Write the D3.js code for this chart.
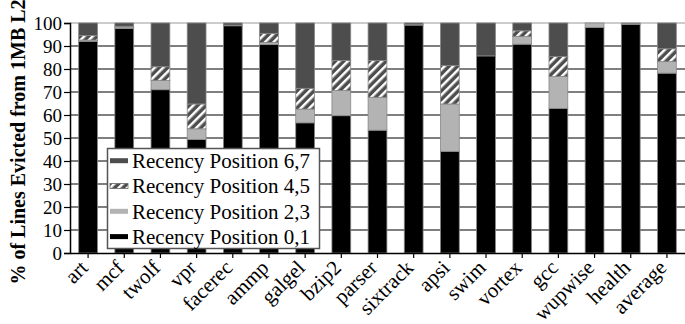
<!DOCTYPE html>
<html>
<head>
<meta charset="utf-8">
<script src="https://cdn.jsdelivr.net/npm/d3@7"></script>
<style>
  html, body { margin: 0; padding: 0; background: #fff; }
  svg { display: block; font-family: "Liberation Serif", "DejaVu Serif", serif; }
</style>
</head>
<body>
<svg id="chart" width="685" height="324"></svg>
<script>
const categories = ["art", "mcf", "twolf", "vpr", "facerec", "ammp", "galgel", "bzip2", "parser",
  "sixtrack", "apsi", "swim", "vortex", "gcc", "wupwise", "health", "average"];
const pos01 = [92, 97.6, 71, 49.3, 98.8, 90.6, 56.6, 59.7, 53.4, 99.1, 44.2, 85.7, 90.8, 62.9, 98.1, 99.3, 78.2];
const pos23 = [0.6, 0.7, 4, 4.7, 0.3, 0.9, 6, 10.9, 14.3, 0.3, 20.6, 0, 3.3, 13.8, 1.9, 0.3, 5];
const pos45 = [2, 0.3, 6, 10.8, 0, 4, 9, 13.1, 16, 0, 16.7, 0, 2.5, 8.7, 0, 0, 5.6];
const pos67 = categories.map((c, i) => Math.max(0, 100 - pos01[i] - pos23[i] - pos45[i]));
const yTicks = [0, 10, 20, 30, 40, 50, 60, 70, 80, 90, 100];
const seriesNames = ["Recency Position 6,7", "Recency Position 4,5", "Recency Position 2,3", "Recency Position 0,1"];

const svg = d3.select("#chart");
const plotLeft = 70, plotRight = 685, plotTop = 23, plotBottom = 253;

const x = d3.scaleBand().domain(categories).range([plotLeft, plotRight]).paddingInner(0.48).paddingOuter(0.24);
const y = d3.scaleLinear().domain([0, 100]).range([plotBottom, plotTop]);

const defs = svg.append("defs");
const pattern = defs.append("pattern")
  .attr("id", "hatch")
  .attr("patternUnits", "userSpaceOnUse")
  .attr("width", 6)
  .attr("height", 6)
  .attr("patternTransform", "rotate(45)");
pattern.append("rect").attr("width", 6).attr("height", 6).attr("fill", "#4d4d4d");
pattern.append("rect").attr("x", 0).attr("width", 2.5).attr("height", 6).attr("fill", "#fff");

const fills = { pos01: "#000", pos23: "#b3b3b3", pos45: "url(#hatch)", pos67: "#4d4d4d" };

// gridlines
svg.append("g")
  .selectAll("line")
  .data(yTicks.filter((t) => t > 0))
  .join("line")
  .attr("x1", plotLeft)
  .attr("x2", plotRight)
  .attr("y1", (d) => y(d))
  .attr("y2", (d) => y(d))
  .attr("stroke", (d) => (d === 100 ? "#999" : "#000"))
  .attr("stroke-width", 1.2);

// stacked bars
const rows = categories.map((c, i) => ({ cat: c, pos01: pos01[i], pos23: pos23[i], pos45: pos45[i], pos67: pos67[i] }));
const stack = d3.stack().keys(["pos01", "pos23", "pos45", "pos67"])(rows);

svg.append("g")
  .selectAll("g")
  .data(stack)
  .join("g")
  .attr("fill", (s) => fills[s.key])
  .selectAll("rect")
  .data((s) => s)
  .join("rect")
  .attr("x", (d) => x(d.data.cat))
  .attr("width", x.bandwidth())
  .attr("y", (d) => y(d[1]))
  .attr("height", (d) => Math.max(0, y(d[0]) - y(d[1])))
  .attr("stroke", "#888")
  .attr("stroke-width", 0.8);

// y axis
const yAxis = svg.append("g")
  .attr("transform", `translate(${plotLeft},0)`)
  .call(d3.axisLeft(y).tickValues(yTicks).tickSize(6).tickPadding(2));
yAxis.attr("font-family", null).attr("font-size", null);
yAxis.select(".domain").attr("stroke", "#000").attr("stroke-width", 1.5);
yAxis.selectAll(".tick line").attr("stroke", "#000").attr("stroke-width", 1.2);
yAxis.selectAll("text").attr("font-size", 19).attr("fill", "#000");

// x axis (labels drawn separately, rotated)
const xAxis = svg.append("g")
  .attr("transform", `translate(0,${plotBottom})`)
  .call(d3.axisBottom(x).tickSize(5).tickSizeOuter(0).tickFormat(""));
xAxis.select(".domain").attr("stroke", "#000").attr("stroke-width", 1.5);
xAxis.selectAll(".tick line").attr("stroke", "#000").attr("stroke-width", 1.2);

svg.append("g")
  .selectAll("g")
  .data(categories)
  .join("g")
  .attr("transform", (d) => `translate(${x(d) + x.bandwidth() / 2 + 1},${plotBottom + 16})`)
  .append("g")
  .attr("transform", "rotate(-45)")
  .append("text")
  .attr("text-anchor", "end")
  .attr("font-size", 21)
  .attr("fill", "#000")
  .text((d) => d);

// y title
svg.append("text")
  .attr("transform", `translate(25,${142}) rotate(-90)`)
  .attr("text-anchor", "middle")
  .attr("font-size", 20)
  .attr("font-weight", "bold")
  .text("% of Lines Evicted from 1MB L2");

// legend
const legend = svg.append("g");
legend.append("rect")
  .attr("x", 107.5)
  .attr("y", 148.5)
  .attr("width", 212)
  .attr("height", 100)
  .attr("fill", "#fff")
  .attr("stroke", "#555")
  .attr("stroke-width", 1.5);

const legendFills = ["#4d4d4d", "url(#hatch)", "#b3b3b3", "#000"];
const legendRows = legend.selectAll("g")
  .data(seriesNames)
  .join("g")
  .attr("transform", (d, i) => `translate(0,${160.7 + i * 25.3})`);
legendRows.append("rect")
  .attr("x", 110)
  .attr("y", -2.5)
  .attr("width", 18)
  .attr("height", 5)
  .attr("fill", (d, i) => legendFills[i])
  .attr("stroke", (d, i) => (i === 1 ? "#666" : "none"))
  .attr("stroke-width", 0.8);
legendRows.append("text")
  .attr("x", 132)
  .attr("y", 0)
  .attr("dy", "0.35em")
  .attr("font-size", 21)
  .text((d) => d);
</script>
</body>
</html>
